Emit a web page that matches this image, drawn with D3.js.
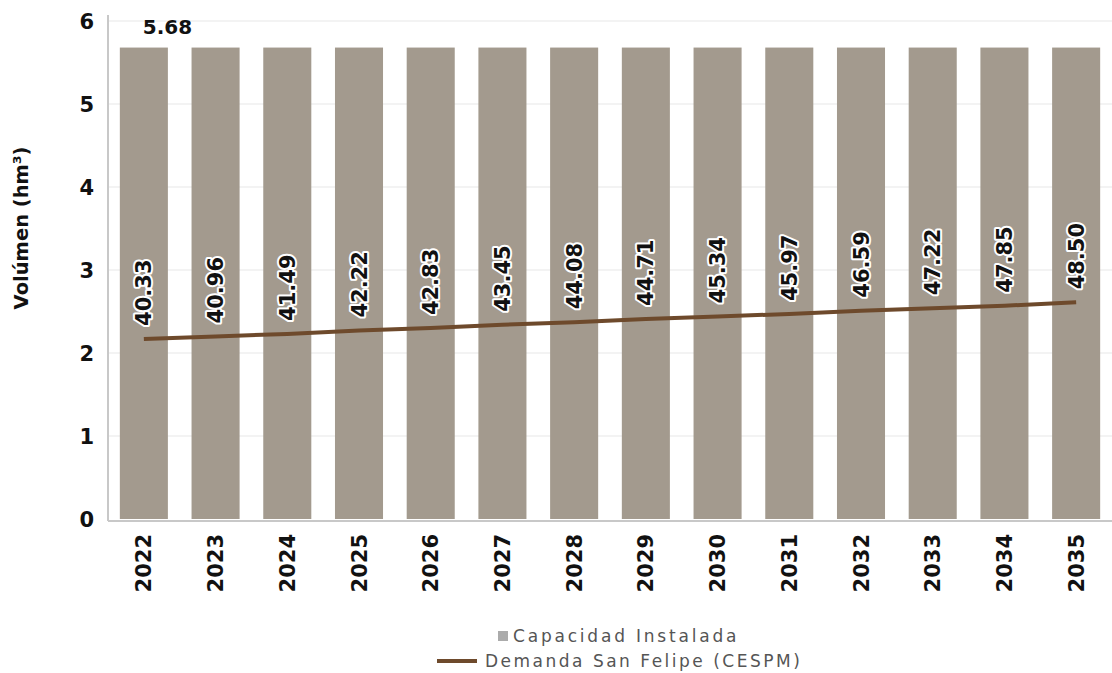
<!DOCTYPE html>
<html>
<head>
<meta charset="utf-8">
<script src="https://cdn.jsdelivr.net/npm/d3@7"></script>
<style>
  html, body { margin: 0; padding: 0; background: #fff; }
  svg { display: block; }
  .bold { font-family: "DejaVu Sans", sans-serif; font-weight: bold; fill: #111; }
  .legend { font-family: "DejaVu Sans", sans-serif; fill: #555; }
</style>
</head>
<body>
<svg id="chart" width="1112" height="673"></svg>
<script>
// Years shown on the horizontal axis
const years = ["2022","2023","2024","2025","2026","2027","2028","2029","2030","2031","2032","2033","2034","2035"];
// Installed capacity (hm³) per year
const capacidad = [5.68,5.68,5.68,5.68,5.68,5.68,5.68,5.68,5.68,5.68,5.68,5.68,5.68,5.68];
// San Felipe demand (hm³) per year
const demandaVol = [2.17,2.20,2.23,2.27,2.30,2.34,2.37,2.41,2.44,2.47,2.51,2.54,2.57,2.61];
// Demand annotation labels
const demandaLabels = ["40.33","40.96","41.49","42.22","42.83","43.45","44.08","44.71","45.34","45.97","46.59","47.22","47.85","48.50"];
// Y axis ticks
const yTicks = [0,1,2,3,4,5,6];

const barColor = "#a39a8e";
const lineColor = "#6e4a2c";

const svg = d3.select("#chart");
const plotLeft = 108, plotRight = 1112, plotTop = 21, plotBottom = 519;

const x = d3.scaleBand().domain(years).range([plotLeft, plotRight]).paddingInner(0.33).paddingOuter(0.165);
const y = d3.scaleLinear().domain([0, 6]).range([plotBottom, plotTop]);

// gridlines
svg.append("g").selectAll("line").data(yTicks.slice(1)).join("line")
  .attr("x1", plotLeft).attr("x2", plotRight)
  .attr("y1", d => y(d)).attr("y2", d => y(d))
  .attr("stroke", "#efefef").attr("stroke-width", 1.5);

// bars
svg.append("g").selectAll("rect").data(capacidad).join("rect")
  .attr("x", (d, i) => x(years[i]))
  .attr("y", d => y(d))
  .attr("width", x.bandwidth())
  .attr("height", d => y(0) - y(d))
  .attr("fill", barColor);

// y axis
const yAxis = svg.append("g").attr("transform", `translate(${plotLeft},0)`)
  .call(d3.axisLeft(y).tickValues(yTicks).tickSize(0).tickPadding(14).tickFormat(d3.format("d")));
yAxis.select(".domain").attr("stroke", "#c8c8c8").attr("stroke-width", 2).attr("d", `M0,${plotTop - 6}V${plotBottom + 2}`);
yAxis.selectAll("text").attr("class", "bold").style("font-size", "21px").attr("dy", "0.35em");

// x axis
const xAxis = svg.append("g").attr("transform", `translate(0,${plotBottom + 2})`)
  .call(d3.axisBottom(x).tickSize(0).tickPadding(0));
xAxis.select(".domain").attr("stroke", "#c8c8c8").attr("stroke-width", 2).attr("d", `M${plotLeft},0H${plotRight}`);
xAxis.selectAll("text").attr("class", "bold").style("font-size", "21px")
  .attr("text-anchor", "end")
  .attr("transform", "rotate(-90)")
  .attr("x", -13).attr("y", 0).attr("dy", "0.36em");

// y title
svg.append("text").attr("class", "bold").style("font-size", "19.5px")
  .attr("transform", `translate(28,228) rotate(-90)`)
  .attr("text-anchor", "middle")
  .text("Volúmen (hm³)");

// capacity value label on first bar
svg.append("text").attr("class", "bold").style("font-size", "20px")
  .attr("x", x(years[0]) + x.bandwidth() / 2 - 1)
  .attr("y", y(capacidad[0]) - 14)
  .text(capacidad[0].toFixed(2));

// demand line
const line = d3.line()
  .x((d, i) => x(years[i]) + x.bandwidth() / 2)
  .y(d => y(d));
svg.append("path").datum(demandaVol)
  .attr("d", line)
  .attr("fill", "none")
  .attr("stroke", lineColor)
  .attr("stroke-width", 4);

// demand labels
svg.append("g").selectAll("text").data(demandaVol).join("text")
  .attr("class", "bold")
  .style("font-size", "21px")
  .attr("stroke", "#fff").attr("stroke-width", 4).attr("paint-order", "stroke")
  .attr("stroke-linejoin", "round")
  .attr("text-anchor", "start")
  .attr("transform", (d, i) => `translate(${x(years[i]) + x.bandwidth() / 2},${y(d) - 13}) rotate(-90)`)
  .attr("dy", "0.36em")
  .text((d, i) => demandaLabels[i]);

// legend
const lg = svg.append("g");
lg.append("rect").attr("x", 498).attr("y", 631).attr("width", 10).attr("height", 10).attr("fill", "#ababab");
lg.append("text").attr("class", "legend").style("font-size", "17px").style("letter-spacing", "2.8px")
  .attr("x", 513).attr("y", 642).text("Capacidad Instalada");
lg.append("line").attr("x1", 437).attr("x2", 477).attr("y1", 661).attr("y2", 661)
  .attr("stroke", lineColor).attr("stroke-width", 4);
lg.append("text").attr("class", "legend").style("font-size", "17px").style("letter-spacing", "2.5px")
  .attr("x", 485).attr("y", 667).text("Demanda San Felipe (CESPM)");
</script>
</body>
</html>
